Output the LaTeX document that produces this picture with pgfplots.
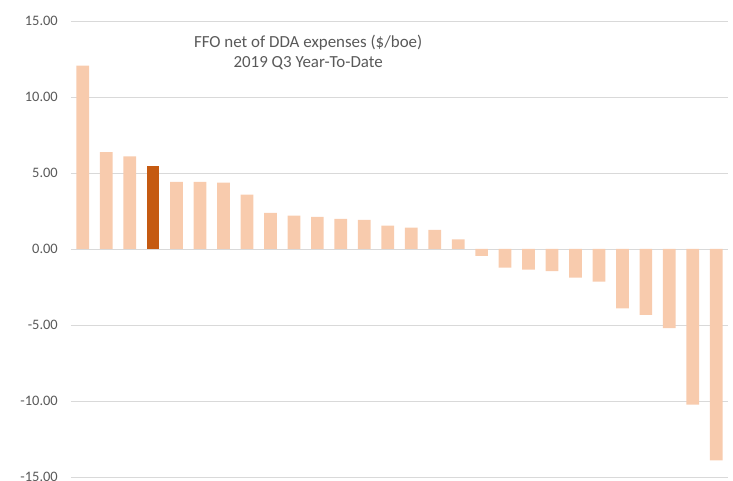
\documentclass[border=0pt]{standalone}
\usepackage{fontspec}
\setmainfont{Carlito}
\usepackage{pgfplots}
\pgfplotsset{compat=1.18}
\definecolor{txt}{HTML}{595959}
\definecolor{grd}{HTML}{D9D9D9}
\definecolor{lightbar}{HTML}{F8CBAD}
\definecolor{darkbar}{HTML}{C55A11}
\begin{document}
\begin{tikzpicture}
\begin{axis}[
  scale only axis,
  width=657bp, height=456bp,
  xmin=-0.5, xmax=27.5,
  ymin=-15, ymax=15,
  ytick={-15,-10,-5,0,5,10,15},
  xtick=\empty,
  ymajorgrids,
  grid style={grd, line width=0.9bp},
  axis line style={draw=none},
  major tick length=0pt,
  ybar, bar shift=0pt, bar width=12.7bp,
  /pgf/number format/assume math mode=true,
  yticklabel={\pgfmathprintnumber[fixed,fixed zerofill,precision=2]{\tick}},
  yticklabel style={anchor=east, inner sep=0pt, xshift=-13bp, font=\fontsize{14.5}{16}\selectfont, text=txt},
  clip=false,
]
\addplot[fill=lightbar, draw=none] coordinates {
(0,12.06) (1,6.37) (2,6.09) (4,4.41) (5,4.41) (6,4.37) (7,3.58)
(8,2.37) (9,2.19) (10,2.11) (11,1.98) (12,1.91) (13,1.53) (14,1.40)
(15,1.25) (16,0.64) (17,-0.46) (18,-1.23) (19,-1.36) (20,-1.45)
(21,-1.89) (22,-2.15) (23,-3.90) (24,-4.33) (25,-5.20) (26,-10.24) (27,-13.90)
};
\addplot[fill=darkbar, draw=none] coordinates {(3,5.45)};
\node[align=center, text=txt, font=\fontsize{17}{20}\selectfont] at (rel axis cs:0.361,0.932)
  {FFO net of DDA expenses (\$/boe)\\2019 Q3 Year-To-Date};
\end{axis}
\pgfresetboundingbox
\path ([shift={(-71bp,-4bp)}]current axis.south west) rectangle ([shift={(5bp,21bp)}]current axis.north east);
\end{tikzpicture}
\end{document}
